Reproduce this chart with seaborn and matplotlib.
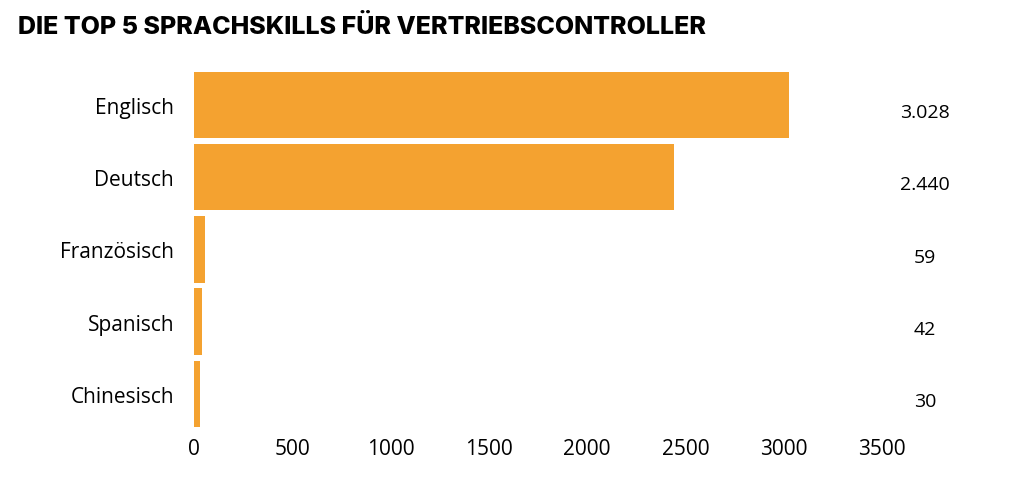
import matplotlib
matplotlib.use("Agg")
import matplotlib.pyplot as plt
import seaborn as sns
import pandas as pd
import matplotlib.transforms as mtransforms

languages = ["Englisch", "Deutsch", "Französisch", "Spanisch", "Chinesisch"]
counts = [3028, 2440, 59, 42, 30]
value_labels = ["3.028", "2.440", "59", "42", "30"]
xticks = [0, 500, 1000, 1500, 2000, 2500, 3000, 3500]

df = pd.DataFrame({"lang": languages, "count": counts})
plt.rcParams["font.family"] = "Open Sans"
fig = plt.figure(figsize=(10.14, 4.89), dpi=100)
ax = fig.add_axes([0.191, 0.119, 0.679, 0.738])
sns.barplot(data=df, y="lang", x="count", color="#F4A230", saturation=1, width=0.92, ax=ax)
ax.set_xlim(0, 3500)
ax.set_xticks(xticks)
ax.set_xticklabels([str(t) for t in xticks], fontsize=15)
ax.tick_params(axis="y", labelsize=15, length=0, pad=14)
ax.tick_params(axis="x", length=0, pad=6)
ax.set_xlabel("")
ax.set_ylabel("")
for s in ax.spines.values():
    s.set_visible(False)
trans = mtransforms.blended_transform_factory(ax.transAxes, ax.transData)
for i, lab in enumerate(value_labels):
    ax.text(1.062, i + 0.1, lab, transform=trans, ha="center", va="center", fontsize=14)
fig.text(0.018, 0.945, "DIE TOP 5 SPRACHSKILLS FÜR VERTRIEBSCONTROLLER",
         fontsize=18, fontweight="heavy", family="Inter", ha="left", va="center")
fig.savefig("out.png", dpi=100)
